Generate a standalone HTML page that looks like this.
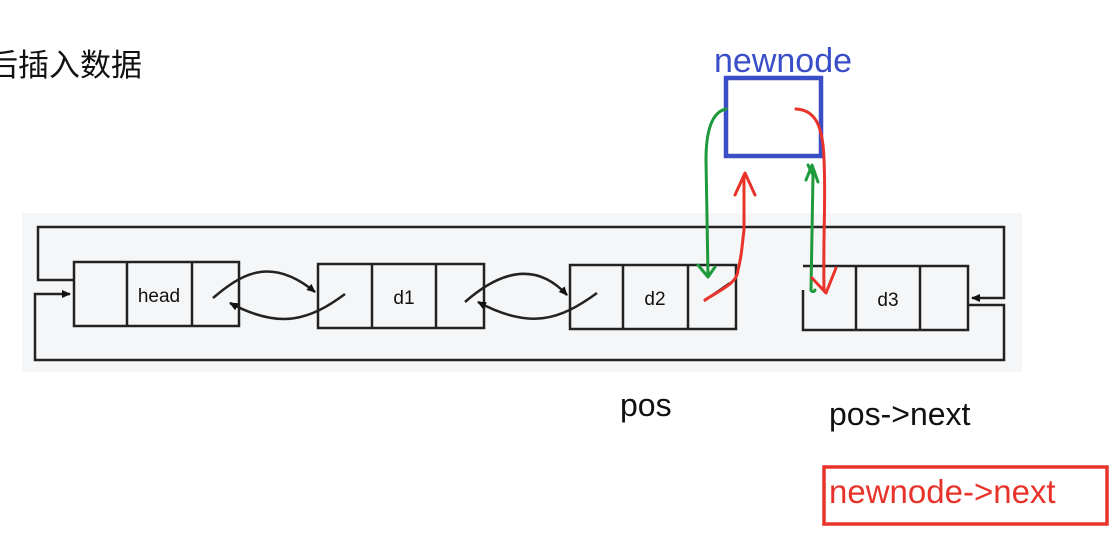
<!DOCTYPE html>
<html><head><meta charset="utf-8"><style>
html,body{margin:0;padding:0;background:#fff;width:1111px;height:533px;overflow:hidden}
svg{display:block}
</style></head><body>
<svg width="1111" height="533" viewBox="0 0 1111 533" xmlns="http://www.w3.org/2000/svg">
<defs>
<marker id="ar" markerWidth="10" markerHeight="10" refX="8" refY="5" orient="auto" markerUnits="userSpaceOnUse"><path d="M0,1 L9,5 L0,9 Z" fill="#111"/></marker>
</defs>
<text x="-13" y="76" font-family="Liberation Sans, Noto Sans CJK SC, sans-serif" font-size="31" fill="#111">后插入数据</text>
<rect x="22" y="213" width="1000" height="159" fill="#f4f6f8"/>
<g fill="none" stroke="#222" stroke-width="2.5">
<polyline points="74,280 38,280 38,227 1004,227 1004,298 972,298" marker-end="url(#ar)"/>
<polyline points="968,305 1004,305 1004,360 35,360 35,294 70,294" marker-end="url(#ar)"/>
<rect x="74" y="262" width="165" height="64"/><line x1="127" y1="262" x2="127" y2="326"/><line x1="192" y1="262" x2="192" y2="326"/>
<rect x="318" y="264" width="166" height="64"/><line x1="372" y1="264" x2="372" y2="328"/><line x1="436" y1="264" x2="436" y2="328"/>
<rect x="570" y="265" width="166" height="64"/><line x1="623" y1="265" x2="623" y2="329"/><line x1="688" y1="265" x2="688" y2="329"/>
<polyline points="803,290 803,330 968,330 968,266 803,266"/><line x1="856" y1="266" x2="856" y2="330"/><line x1="920" y1="266" x2="920" y2="330"/>
<path d="M213,298 C240,275 270,255 315,292" marker-end="url(#ar)"/>
<path d="M345,294 C310,320 280,330 230,303" marker-end="url(#ar)"/>
<path d="M465,302 C490,280 530,255 567,295" marker-end="url(#ar)"/>
<path d="M597,293 C560,320 530,330 478,302" marker-end="url(#ar)"/>
<line x1="704" y1="301" x2="730" y2="283"/>
</g>
<g font-family="Liberation Sans, sans-serif" fill="#111">
<text x="159" y="302" font-size="19" text-anchor="middle">head</text>
<text x="404" y="304" font-size="19" text-anchor="middle">d1</text>
<text x="655" y="305" font-size="19" text-anchor="middle">d2</text>
<text x="888" y="306" font-size="19" text-anchor="middle">d3</text>
<text x="620" y="416" font-size="32">pos</text>
<text x="829" y="425" font-size="32">pos-&gt;next</text>
</g>
<text x="714" y="72" font-family="Liberation Sans, sans-serif" font-size="34" fill="#3a4ec8">newnode</text>
<rect x="726" y="78" width="95" height="78" fill="none" stroke="#3a4ec8" stroke-width="4.5"/>
<g fill="none" stroke-width="3" stroke-linecap="round" stroke-linejoin="round">
<path d="M726,109 C712,112 706,130 706,160 L708,275" stroke="#1e9a3a"/>
<path d="M698,265 L708,277 L715,267" stroke="#1e9a3a"/>
<path d="M811,290 L813,175 L808,165" stroke="#1e9a3a"/>
<path d="M806,180 L812,165 L818,182" stroke="#1e9a3a"/>
<path d="M811,290 C811,292 815,292 815,290" stroke="#1e9a3a"/>
<path d="M705,300 C720,290 738,283 738,270 C742,255 742,245 744,230 L744,175" stroke="#e8332a"/>
<path d="M735,195 L745,173 L755,195" stroke="#e8332a"/>
<path d="M796,109 C815,110 823,125 824,160 C826,200 823,230 824,290" stroke="#e8332a"/>
<path d="M812,278 L826,293 L836,268" stroke="#e8332a"/>
</g>
<rect x="824" y="467" width="283" height="57" fill="none" stroke="#e8332a" stroke-width="3.5"/>
<text x="829" y="503" font-family="Liberation Sans, sans-serif" font-size="33" fill="#e8332a">newnode-&gt;next</text>
</svg>
</body></html>
